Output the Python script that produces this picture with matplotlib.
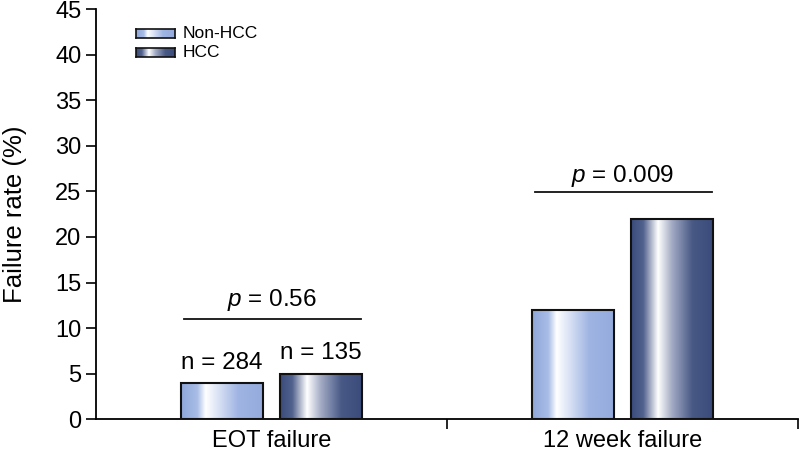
import numpy as np
import matplotlib.pyplot as plt
from matplotlib.colors import LinearSegmentedColormap

plt.rcParams['font.family'] = ['Liberation Sans', 'DejaVu Sans']
plt.rcParams['mathtext.fontset'] = 'custom'
plt.rcParams['mathtext.it'] = 'Liberation Sans:italic'

groups = ['EOT failure', '12 week failure']
series = ['Non-HCC', 'HCC']
non_hcc = [4, 12]
hcc = [5, 22]
n_labels = ['n = 284', 'n = 135']
p_values = ['0.56', '0.009']

light = LinearSegmentedColormap.from_list('light', [
    (0.0, '#8ea7da'), (0.2, '#a9bde6'), (0.3, '#ffffff'),
    (0.45, '#dbe3f5'), (0.7, '#9fb4e2'), (1.0, '#94abdd')])
dark = LinearSegmentedColormap.from_list('dark', [
    (0.0, '#3a4b7c'), (0.15, '#52628e'), (0.33, '#ffffff'),
    (0.5, '#a3abc4'), (0.75, '#485986'), (1.0, '#3b4b7b')])
grad = np.linspace(0, 1, 256).reshape(1, -1)

fig = plt.figure(figsize=(8, 4.53), dpi=100)
ax = fig.add_axes([0.12, 0.0744, 0.878, 0.9056])

x = np.arange(len(groups))
w = 0.233
off = 0.141


def grad_bars(xs, vals, cmap, label):
    bars = ax.bar(xs, vals, w, facecolor='none', edgecolor='#111111',
                  linewidth=1.5, zorder=3, label=label)
    for b in bars:
        x0, y0 = b.get_x(), b.get_y()
        im = ax.imshow(grad, extent=[x0, x0 + b.get_width(), y0, y0 + b.get_height()],
                       aspect='auto', cmap=cmap, zorder=2, interpolation='bilinear')
        im.set_clip_path(b)
    return bars


grad_bars(x - off, non_hcc, light, series[0])
grad_bars(x + off, hcc, dark, series[1])

# n labels for EOT group
ax.text(x[0] - off, non_hcc[0] + 1.5, n_labels[0], ha='center', va='baseline', fontsize=17.5)
ax.text(x[0] + off, hcc[0] + 1.6, n_labels[1], ha='center', va='baseline', fontsize=17.5)

# significance lines
sig_y = [11.0, 24.9]
txt_y = [12.4, 26.0]
for i, (yy, ty, p) in enumerate(zip(sig_y, txt_y, p_values)):
    ax.plot([x[i] - off - w / 2 + 0.008, x[i] + off + w / 2 - 0.003], [yy, yy],
            color='#111111', lw=1.3, zorder=4)
    ax.text(x[i], ty, r'$p$ = ' + p, ha='center', va='baseline', fontsize=17.5)

ax.set_xlim(-0.5, 1.5)
ax.set_ylim(0, 45)
ax.set_yticks(np.arange(0, 46, 5))
ax.set_xticks(x)
ax.set_xticklabels(groups, fontsize=17)
ax.set_xticks([0.5, 1.5], minor=True)
ax.tick_params(axis='x', which='major', length=0, pad=8)
ax.tick_params(axis='x', which='minor', length=7, width=1.2, direction='out')
ax.tick_params(axis='y', length=7, width=1.2, labelsize=17, direction='out', pad=3.5)
ax.set_ylabel('Failure rate (%)', fontsize=18.5, labelpad=20)
for s in ['top', 'right']:
    ax.spines[s].set_visible(False)
for s in ['left', 'bottom']:
    ax.spines[s].set_linewidth(1.3)

# legend with gradient swatches
lx0, lw_ = 136, 39
for i, (cmap, lab) in enumerate([(light, series[0]), (dark, series[1])]):
    ytop = 29 + i * 19
    fx0 = lx0 / 800
    fy0 = 1 - (ytop + 9) / 453
    lax = fig.add_axes([fx0, fy0, lw_ / 800, 9 / 453])
    lax.imshow(grad, aspect='auto', cmap=cmap, extent=[0, 1, 0, 1])
    lax.set_xticks([])
    lax.set_yticks([])
    for sp in lax.spines.values():
        sp.set_linewidth(1.2)
        sp.set_color('#111111')
    fig.text((lx0 + lw_ + 8) / 800, 1 - (ytop + 4.5) / 453, lab, fontsize=12.5, va='center')

fig.savefig('out.png', dpi=100)
